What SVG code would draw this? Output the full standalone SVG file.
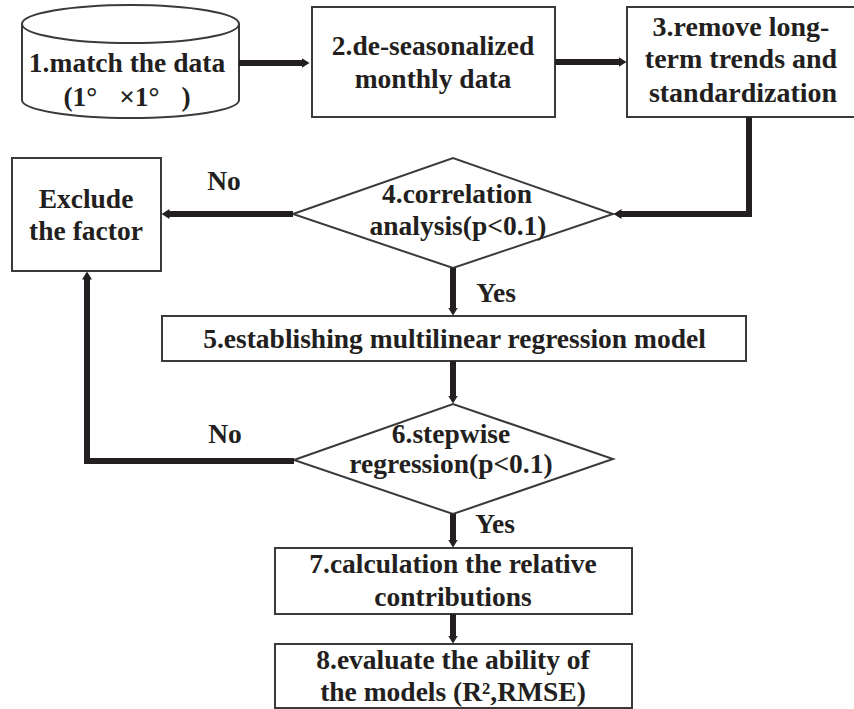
<svg xmlns="http://www.w3.org/2000/svg" width="854" height="709" viewBox="0 0 854 709" font-family="'Liberation Serif', 'Times New Roman', Times, serif">
<style>
.box{fill:#fff;stroke:#3a3a3a;stroke-width:2}
.t{font-family:'Liberation Serif', 'Times New Roman', Times, serif;font-weight:700;font-size:27.5px;fill:#231f20;text-anchor:middle}
.c{fill:none;stroke:#231f20;stroke-width:6;stroke-linejoin:miter}
</style>
<defs>
<marker id="ah" markerUnits="userSpaceOnUse" viewBox="0 0 8 10" markerWidth="8" markerHeight="10" refX="0.5" refY="5" orient="auto">
<path d="M0,0 L8,5 L0,10 z" fill="#231f20"/>
</marker>
</defs>
<rect width="854" height="709" fill="#fff"/>
<g id="n1">
<path class="box" d="M22,24 V100 A108.5,18 0 0 0 239,100 V24"/>
<ellipse class="box" cx="130.5" cy="24" rx="108.5" ry="19"/>
<text class="t" x="127" y="72">1.match the data</text>
<text class="t" x="127" y="106" word-spacing="15">(1° ×1° )</text>
</g>
<g id="n2">
<rect class="box" x="312" y="7" width="243" height="110"/>
<text class="t" x="433" y="55">2.de-seasonalized</text>
<text class="t" x="433" y="88">monthly data</text>
</g>
<g id="n3">
<rect class="box" x="627" y="7" width="240" height="110"/>
<text class="t" x="741" y="36" style="font-size:28px">3.remove long-</text>
<text class="t" x="741" y="68" style="font-size:28px">term trends and</text>
<text class="t" x="743" y="102" style="font-size:28px">standardization</text>
</g>
<g id="n4">
<polygon class="box" points="293,214 453,158 613,214 453,268"/>
<text class="t" x="457" y="203">4.correlation</text>
<text class="t" x="458" y="235">analysis(p&lt;0.1)</text>
</g>
<g id="n_ex">
<rect class="box" x="12" y="158" width="149" height="113"/>
<text class="t" x="86" y="208">Exclude</text>
<text class="t" x="86" y="240">the factor</text>
</g>
<g id="n5">
<rect class="box" x="162" y="316" width="584" height="45"/>
<text class="t" x="454.5" y="348">5.establishing multilinear regression model</text>
</g>
<g id="n6">
<polygon class="box" points="294,460 453,404 613,459 453,514"/>
<text class="t" x="451" y="443">6.stepwise</text>
<text class="t" x="451" y="473">regression(p&lt;0.1)</text>
</g>
<g id="n7">
<rect class="box" x="275" y="548" width="357" height="66"/>
<text class="t" x="453" y="573">7.calculation the relative</text>
<text class="t" x="453" y="606">contributions</text>
</g>
<g id="n8">
<rect class="box" x="275" y="644" width="357" height="64"/>
<text class="t" x="453" y="669">8.evaluate the ability of</text>
<text class="t" x="453" y="701">the models (R²,RMSE)</text>
</g>
<g id="connectors">
<path class="c" d="M239,63 H302" marker-end="url(#ah)"/>
<path class="c" d="M555,62 H619" marker-end="url(#ah)"/>
<path class="c" d="M749,117 V214 H621" marker-end="url(#ah)"/>
<path class="c" d="M293,214 H169" marker-end="url(#ah)"/>
<path class="c" d="M453,268 V308" marker-end="url(#ah)"/>
<path class="c" d="M453,361 V396" marker-end="url(#ah)"/>
<path class="c" d="M294,461 H87 V279" marker-end="url(#ah)"/>
<path class="c" d="M453,514 V540" marker-end="url(#ah)"/>
<path class="c" d="M453,614 V636" marker-end="url(#ah)"/>
</g>
<g id="labels">
<text class="t" x="224" y="190">No</text>
<text class="t" x="225" y="443">No</text>
<text class="t" x="496" y="302">Yes</text>
<text class="t" x="495" y="533">Yes</text>
</g>
</svg>
